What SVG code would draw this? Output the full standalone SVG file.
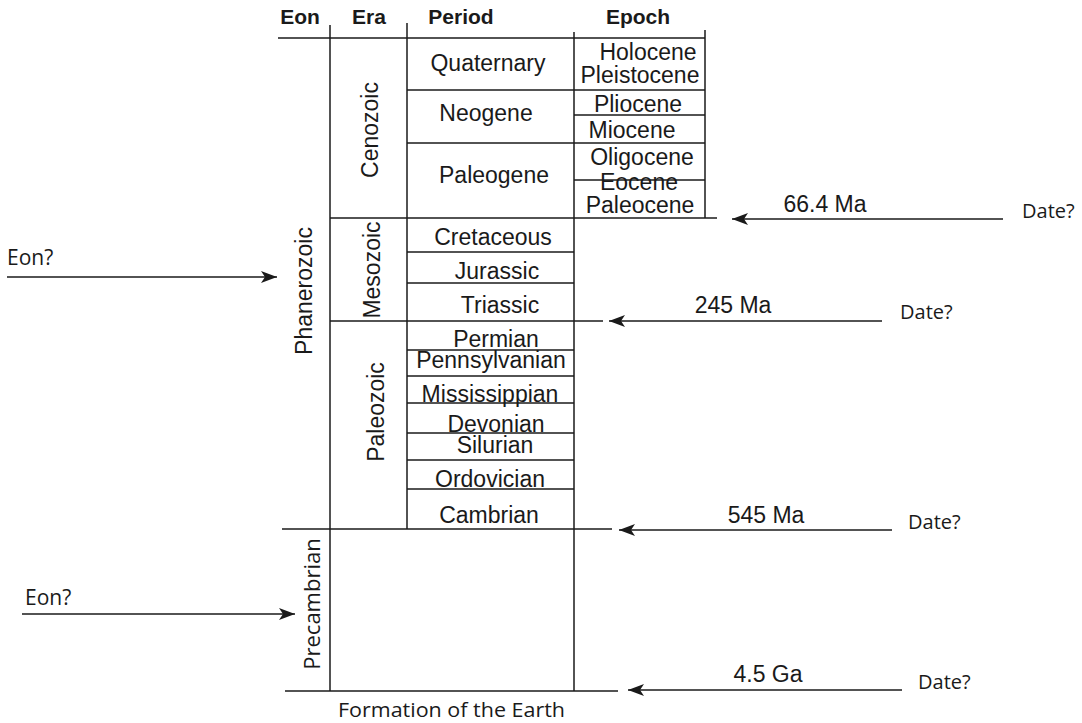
<svg xmlns="http://www.w3.org/2000/svg" width="1082" height="723" viewBox="0 0 1082 723">
<style>
.ln{stroke:#1a1a1a;stroke-width:1.5;fill:none}
.t{font-family:"Liberation Sans",Arial,sans-serif;font-size:23px;fill:#1a1a1a;text-anchor:middle}
.h{font-family:"Liberation Sans",Arial,sans-serif;font-size:21px;font-weight:bold;fill:#1a1a1a;text-anchor:middle}
.m{font-family:"Open Sans","Noto Sans",sans-serif;font-size:20px;fill:#1a1a1a}
.ar{stroke:#1a1a1a;stroke-width:1.6;fill:none}
</style>
<defs>
<marker id="ah" viewBox="0 0 16 12" refX="16" refY="6" markerWidth="16" markerHeight="12" markerUnits="userSpaceOnUse" orient="auto">
<path d="M0,0 L16,6 L0,12 L4,6 Z" fill="#1a1a1a"/>
</marker>
</defs>
<rect width="1082" height="723" fill="#ffffff"/>
<g id="grid">
<line class="ln" x1="278" y1="38" x2="705" y2="38"/>
<line class="ln" x1="330" y1="25" x2="330" y2="691"/>
<line class="ln" x1="407" y1="23" x2="407" y2="529"/>
<line class="ln" x1="574" y1="32" x2="574" y2="691"/>
<line class="ln" x1="705" y1="30" x2="705" y2="218"/>
<line class="ln" x1="407" y1="90" x2="705" y2="90"/>
<line class="ln" x1="574" y1="115" x2="705" y2="115"/>
<line class="ln" x1="407" y1="143" x2="705" y2="143"/>
<line class="ln" x1="574" y1="180" x2="705" y2="180"/>
<line class="ln" x1="330" y1="218" x2="717" y2="218"/>
<line class="ln" x1="407" y1="252" x2="574" y2="252"/>
<line class="ln" x1="407" y1="283" x2="574" y2="283"/>
<line class="ln" x1="330" y1="321" x2="603" y2="321"/>
<line class="ln" x1="407" y1="350" x2="574" y2="350"/>
<line class="ln" x1="407" y1="376" x2="574" y2="376"/>
<line class="ln" x1="407" y1="403" x2="574" y2="403"/>
<line class="ln" x1="407" y1="433" x2="574" y2="433"/>
<line class="ln" x1="407" y1="460" x2="574" y2="460"/>
<line class="ln" x1="407" y1="489" x2="574" y2="489"/>
<line class="ln" x1="282" y1="529" x2="612" y2="529"/>
<line class="ln" x1="285" y1="691" x2="618" y2="691"/>
</g>
<g id="headers">
<text class="h" x="300" y="24">Eon</text>
<text class="h" x="369" y="24">Era</text>
<text class="h" x="461" y="24">Period</text>
<text class="h" x="638" y="24">Epoch</text>
</g>
<g id="eon-phanerozoic"><text class="t" transform="translate(312,291) rotate(-90)">Phanerozoic</text></g>
<g id="eon-precambrian"><text class="m" style="font-size:22px;text-anchor:middle" transform="translate(320,604) rotate(-90)">Precambrian</text></g>
<g id="era-cenozoic"><text class="t" transform="translate(378,130) rotate(-90)">Cenozoic</text></g>
<g id="era-mesozoic"><text class="t" transform="translate(380,270) rotate(-90)">Mesozoic</text></g>
<g id="era-paleozoic"><text class="t" transform="translate(384,412) rotate(-90)">Paleozoic</text></g>
<g id="period-quaternary"><text class="t" x="488" y="71">Quaternary</text></g>
<g id="period-neogene"><text class="t" x="486" y="121">Neogene</text></g>
<g id="period-paleogene"><text class="t" x="494" y="183">Paleogene</text></g>
<g id="period-cretaceous"><text class="t" x="493" y="245">Cretaceous</text></g>
<g id="period-jurassic"><text class="t" x="497" y="279">Jurassic</text></g>
<g id="period-triassic"><text class="t" x="500" y="313">Triassic</text></g>
<g id="period-permian"><text class="t" x="496" y="347">Permian</text></g>
<g id="period-pennsylvanian"><text class="t" x="491" y="368">Pennsylvanian</text></g>
<g id="period-mississippian"><text class="t" x="490" y="402">Mississippian</text></g>
<g id="period-devonian"><text class="t" x="496" y="432">Devonian</text></g>
<g id="period-silurian"><text class="t" x="495" y="453">Silurian</text></g>
<g id="period-ordovician"><text class="t" x="490" y="487">Ordovician</text></g>
<g id="period-cambrian"><text class="t" x="489" y="523">Cambrian</text></g>
<g id="epoch-holocene"><text class="t" x="648" y="60">Holocene</text></g>
<g id="epoch-pleistocene"><text class="t" x="640" y="83">Pleistocene</text></g>
<g id="epoch-pliocene"><text class="t" x="638" y="112">Pliocene</text></g>
<g id="epoch-miocene"><text class="t" x="632" y="138">Miocene</text></g>
<g id="epoch-oligocene"><text class="t" x="642" y="165">Oligocene</text></g>
<g id="epoch-eocene"><text class="t" x="639" y="190">Eocene</text></g>
<g id="epoch-paleocene"><text class="t" x="640" y="213">Paleocene</text></g>
<g id="date-66"><text class="t" x="825" y="212">66.4 Ma</text><text class="m" x="1022" y="218">Date?</text></g>
<g id="date-245"><text class="t" x="733" y="313">245 Ma</text><text class="m" x="900" y="319">Date?</text></g>
<g id="date-545"><text class="t" x="766" y="523">545 Ma</text><text class="m" x="908" y="529">Date?</text></g>
<g id="date-45"><text class="t" x="768" y="682">4.5 Ga</text><text class="m" x="918" y="689">Date?</text></g>
<g id="eon-q1"><text class="m" style="font-size:21px" x="7" y="265">Eon?</text></g>
<g id="eon-q2"><text class="m" style="font-size:21px" x="25" y="605">Eon?</text></g>
<g id="formation"><text class="m" style="font-size:20px" x="338" y="717" textLength="227" lengthAdjust="spacingAndGlyphs">Formation of the Earth</text></g>
<g id="connectors">
<line class="ar" x1="1003" y1="219" x2="732" y2="219" marker-end="url(#ah)"/>
<line class="ar" x1="882" y1="321" x2="609" y2="321" marker-end="url(#ah)"/>
<line class="ar" x1="892" y1="530" x2="619" y2="530" marker-end="url(#ah)"/>
<line class="ar" x1="902" y1="690" x2="628" y2="690" marker-end="url(#ah)"/>
<line class="ar" x1="7" y1="277" x2="277" y2="277" marker-end="url(#ah)"/>
<line class="ar" x1="22" y1="614" x2="295" y2="614" marker-end="url(#ah)"/>
</g>
</svg>
